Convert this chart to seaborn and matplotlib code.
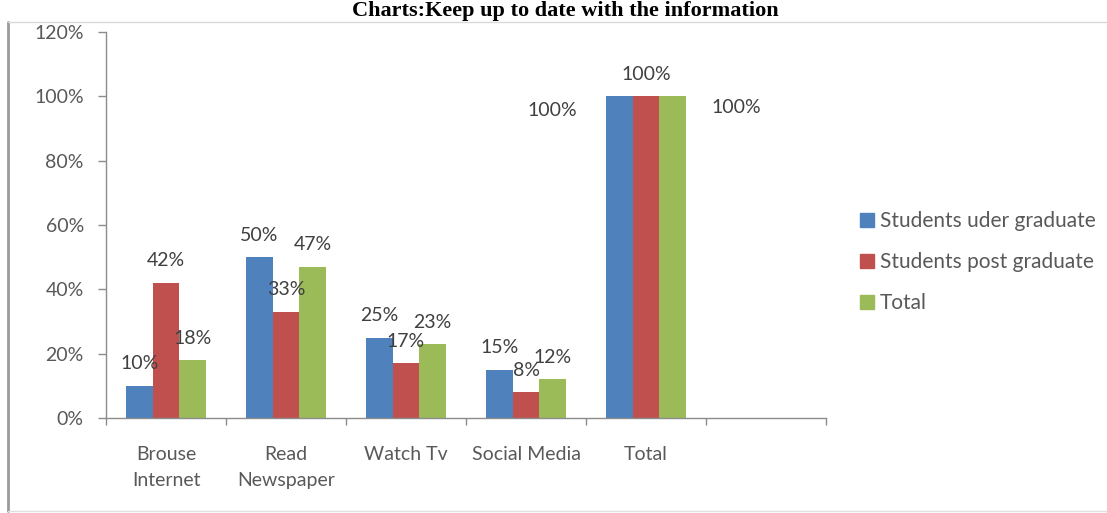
import matplotlib
matplotlib.use("Agg")
import matplotlib.pyplot as plt
from matplotlib.lines import Line2D
import seaborn as sns
import pandas as pd

# Data
categories = ["Brouse\nInternet", "Read\nNewspaper", "Watch Tv", "Social Media", "Total"]
series_names = ["Students uder graduate", "Students post graduate", "Total"]
under_graduate = [10, 50, 25, 15, 100]
post_graduate = [42, 33, 17, 8, 100]
total = [18, 47, 23, 12, 100]
y_ticks = [0, 20, 40, 60, 80, 100, 120]
title_text = "Charts:Keep up to date with the information"

colors = ["#4F81BD", "#C0504D", "#9BBB59"]

rows = []
for name, vals in zip(series_names, [under_graduate, post_graduate, total]):
    for cat, v in zip(categories, vals):
        rows.append({"category": cat, "series": name, "value": v})
df = pd.DataFrame(rows)

sns.set_theme(style="white")
plt.rcParams["font.family"] = ["Lato", "DejaVu Sans"]

AXIS_GRAY = "#595959"
LABEL_GRAY = "#404040"
SPINE_GRAY = "#8c8c8c"

fig = plt.figure(figsize=(11.07, 5.13), dpi=100)
fig.patch.set_facecolor("white")
ax = fig.add_axes([106 / 1107, 95 / 513, 720 / 1107, 386 / 513])

sns.barplot(data=df, x="category", y="value", hue="series",
            order=categories, hue_order=series_names, palette=colors,
            width=0.667, linewidth=0, saturation=1, ax=ax)

if ax.get_legend() is not None:
    ax.get_legend().remove()

# Axis limits and ticks
ax.set_xlim(-0.5, 5.5)
ax.set_ylim(0, 120)
ax.set_yticks(y_ticks)
ax.set_yticklabels([f"{t}%" for t in y_ticks])
ax.set_xticks(range(len(categories)))
ax.set_xticklabels(categories, linespacing=1.65)
ax.set_xticks([i - 0.5 for i in range(len(categories) + 2)], minor=True)
ax.set_xlabel("")
ax.set_ylabel("")

ax.tick_params(axis="y", which="major", left=True, length=6, width=1,
               color=SPINE_GRAY, labelsize=14, labelcolor=AXIS_GRAY, pad=10)
ax.tick_params(axis="x", which="major", bottom=False, length=0,
               labelsize=14, labelcolor=AXIS_GRAY, pad=20)
ax.tick_params(axis="x", which="minor", bottom=True, length=5, width=1,
               color=SPINE_GRAY)

for side in ["top", "right"]:
    ax.spines[side].set_visible(False)
for side in ["left", "bottom"]:
    ax.spines[side].set_color(SPINE_GRAY)
    ax.spines[side].set_linewidth(1)
ax.set_facecolor("white")
ax.grid(False)

# Data labels above each bar; the Total group spreads its labels sideways
special_offsets = {(0, 4): (-67, -14), (2, 4): (64, -11)}
for s_idx, container in enumerate(ax.containers):
    for c_idx, bar in enumerate(container):
        h = bar.get_height()
        cx = bar.get_x() + bar.get_width() / 2
        dx, dy = special_offsets.get((s_idx, c_idx), (0, 22))
        ax.annotate(f"{h:.0f}%", xy=(cx, h), xytext=(dx, dy),
                    textcoords="offset pixels", ha="center", va="center",
                    fontsize=14, color=LABEL_GRAY, annotation_clip=False)

# Legend
sq = [Line2D([0], [0], marker="s", linestyle="none", markersize=10,
             markerfacecolor=c, markeredgecolor=c) for c in colors]
fig.legend(sq, series_names, loc="center left",
           bbox_to_anchor=(860 / 1107, 1 - 262 / 513), frameon=False,
           fontsize=15, labelcolor=AXIS_GRAY, handlelength=0.7,
           handletextpad=0.25, labelspacing=1.0, borderaxespad=0,
           borderpad=0)

# Outer frame of the chart area
fig.add_artist(Line2D([8 / 1107, 8 / 1107], [1 - 22 / 513, 1 - 511 / 513],
                      transform=fig.transFigure, color="#9a9a9a", lw=2))
fig.add_artist(Line2D([8 / 1107, 1], [1 - 22 / 513, 1 - 22 / 513],
                      transform=fig.transFigure, color="#d9d9d9", lw=1))
fig.add_artist(Line2D([8 / 1107, 1], [1 - 511 / 513, 1 - 511 / 513],
                      transform=fig.transFigure, color="#e0e0e0", lw=1))

# Title
fig.text(565 / 1107, 1 - 1 / 513, title_text, ha="center", va="top",
         fontsize=16, fontweight="bold", family="Liberation Serif",
         color="black")

fig.savefig("out.png", dpi=100, facecolor="white")
